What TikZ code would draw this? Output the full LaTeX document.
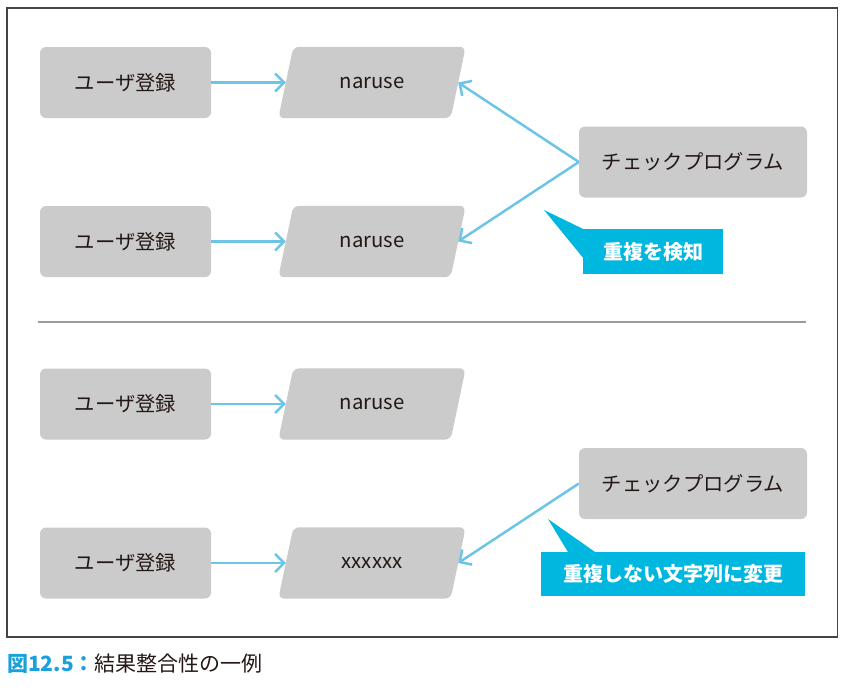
\documentclass[tikz,border=0pt]{standalone}
\usepackage{fontspec}
\setmainfont{Noto Sans CJK JP}
\usetikzlibrary{arrows.meta,backgrounds}

\definecolor{boxgray}{HTML}{CBCBCB}
\definecolor{linkblue}{HTML}{6CC4E6}
\definecolor{calloutblue}{HTML}{00B7E0}
\definecolor{capblue}{HTML}{1AA0DA}
\definecolor{ink}{HTML}{231815}
\definecolor{framegray}{HTML}{444444}
\definecolor{rulegray}{HTML}{9B9B9B}

\tikzset{
  procbox/.style={fill=boxgray, rounded corners=6pt, minimum width=171pt,
    minimum height=71pt, inner sep=0pt, text=ink, font=\fontsize{20.3}{20}\selectfont},
  checkbox/.style={procbox, minimum width=228pt},
  databox/.style={minimum width=172pt, minimum height=71pt, inner sep=0pt,
    text=ink, font=\fontsize{20.3}{20}\selectfont},
  calloutbox/.style={fill=calloutblue, inner sep=0pt, text=white,
    font=\bfseries\fontsize{20}{20}\selectfont},
  link/.style={draw=linkblue, line width=2.5pt,
    -{Straight Barb[length=9pt,width=18pt]}},
}

% slanted data record: node carries the text, the parallelogram is filled behind it
\newcommand\datarec[3]{%
  \node[databox] (#1) at (#2) {#3};
  \begin{scope}[on background layer]
    \fill[boxgray, rounded corners=6pt]
      ([xshift=7.5pt]#1.north west) -- ([xshift=7.5pt]#1.north east) --
      ([xshift=-7.5pt]#1.south east) -- ([xshift=-7.5pt]#1.south west) -- cycle;
  \end{scope}}

\begin{document}
\begin{tikzpicture}[x=1pt, y=-1pt]
  \useasboundingbox (0,0) rectangle (848,691);

  % outer frame
  \draw[framegray, line width=1.2pt] (7,8) rectangle (837.5,637);

  % --- duplicate detected ---
  \node[procbox] (reg1) at (125.5,82.5) {ユーザ登録};
  \node[procbox] (reg2) at (125.5,241.5) {ユーザ登録};
  \datarec{rec1}{372,82.5}{naruse}
  \datarec{rec2}{372,241.5}{naruse}
  \node[checkbox] (chk1) at (693,162) {チェックプログラム};

  \draw[link] (reg1) -- (rec1);
  \draw[link] (reg2) -- (rec2);
  \draw[link] (chk1.west) -- (rec1.east);
  \draw[link] (chk1.west) -- (rec2.east);

  \node[calloutbox, minimum width=140pt, minimum height=45pt] (note1) at (653,251.5) {重複を検知};
  \fill[calloutblue] (544,210) -- (note1.north west) -- ([yshift=-6pt]note1.west) -- cycle;

  % separator
  \draw[rulegray, line width=2.5pt] (38,322) -- (806,322);

  % --- duplicate rewritten ---
  \node[procbox] (reg3) at (125.5,404) {ユーザ登録};
  \node[procbox] (reg4) at (125.5,563) {ユーザ登録};
  \datarec{rec3}{372,404}{naruse}
  \datarec{rec4}{372,563}{xxxxxx}
  \node[checkbox] (chk2) at (693,483.5) {チェックプログラム};

  \draw[link] (reg3) -- (rec3);
  \draw[link] (reg4) -- (rec4);
  \draw[link] (chk2.west) -- (rec4.east);

  \node[calloutbox, minimum width=264pt, minimum height=44pt] (note2) at (673,574) {重複しない文字列に変更};
  \fill[calloutblue] (548,519) -- ([xshift=27pt]note2.north west) -- ([xshift=54pt]note2.north west) -- cycle;

  % caption
  \node[anchor=base west, inner sep=0pt, font=\fontsize{21}{21}\selectfont] (cap) at (7,671)
    {\textcolor{capblue}{\bfseries 図12.5：}\textcolor{ink}{結果整合性の一例}};
\end{tikzpicture}
\end{document}
